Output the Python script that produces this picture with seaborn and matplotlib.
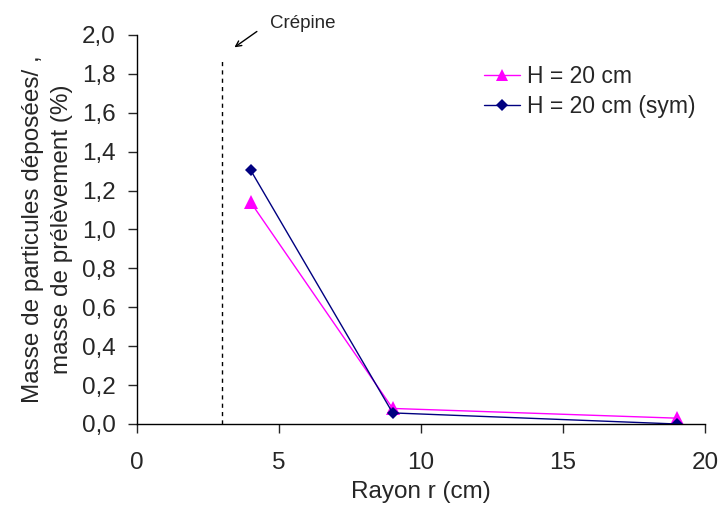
import matplotlib
matplotlib.use("Agg")
import matplotlib.pyplot as plt
import seaborn as sns
import pandas as pd

rayon = [4, 9, 19]
h20 = [1.14, 0.08, 0.03]
h20_sym = [1.305, 0.057, 0.0]
series_names = ["H = 20 cm", "H = 20 cm (sym)"]
x_ticks = [0, 5, 10, 15, 20]
y_ticks = [0.0, 0.2, 0.4, 0.6, 0.8, 1.0, 1.2, 1.4, 1.6, 1.8, 2.0]

df = pd.DataFrame({
    "r": rayon * 2,
    "v": h20 + h20_sym,
    "s": [series_names[0]] * 3 + [series_names[1]] * 3,
})

sns.set_style("ticks")
plt.rcParams["font.family"] = ["Liberation Sans", "DejaVu Sans"]

fig = plt.figure(figsize=(7.21, 5.16), dpi=100)
ax = fig.add_axes([0.19, 0.1783, 0.788, 0.754])

sns.lineplot(data=df, x="r", y="v", hue="s", style="s",
             palette={series_names[0]: "#FF00FF", series_names[1]: "#000080"},
             markers={series_names[0]: "^", series_names[1]: "D"},
             dashes=False, markersize=6.5, linewidth=1.0,
             markeredgewidth=0, ax=ax)
for ln in ax.get_lines():
    if ln.get_marker() == "^":
        ln.set_markersize(9.5)

ax.plot([3, 3], [0, 1.88], linestyle=(0, (3, 3)), color="black", linewidth=1)
ax.annotate("", xy=(3.35, 1.928), xytext=(4.30, 2.026),
            arrowprops=dict(arrowstyle="->", color="black", lw=1),
            annotation_clip=False)
ax.text(4.68, 2.036, "Crépine", fontsize=13.5, ha="left", va="baseline")

ax.set_xlim(0, 20)
ax.set_ylim(0, 2.0)
ax.set_xticks(x_ticks)
ax.set_xticklabels([str(t) for t in x_ticks], fontsize=17.5)
ax.set_yticks(y_ticks)
ax.set_yticklabels([f"{t:.1f}".replace(".", ",") for t in y_ticks], fontsize=17.5)
ax.tick_params(axis="x", length=6.5, width=1, pad=14)
ax.tick_params(axis="y", length=6.5, width=1, pad=9)
for s in ["top", "right"]:
    ax.spines[s].set_visible(False)
for s in ["left", "bottom"]:
    ax.spines[s].set_linewidth(1)
    ax.spines[s].set_color("black")

ax.set_xlabel("Rayon r (cm)", fontsize=17.5, labelpad=5)
ax.set_ylabel("Masse de particules déposées/ ,\nmasse de prélèvement (%)",
              fontsize=17.5, labelpad=6, linespacing=1.4)

leg = ax.legend(frameon=False, fontsize=16.5, loc="upper left",
                bbox_to_anchor=(0.583, 0.964), handlelength=1.55, borderpad=0.2,
                labelspacing=0.3, handletextpad=0.3)
for h in leg.legend_handles:
    h.set_markersize(9 if h.get_marker() == "^" else 6)

fig.savefig("out.png", dpi=100)
